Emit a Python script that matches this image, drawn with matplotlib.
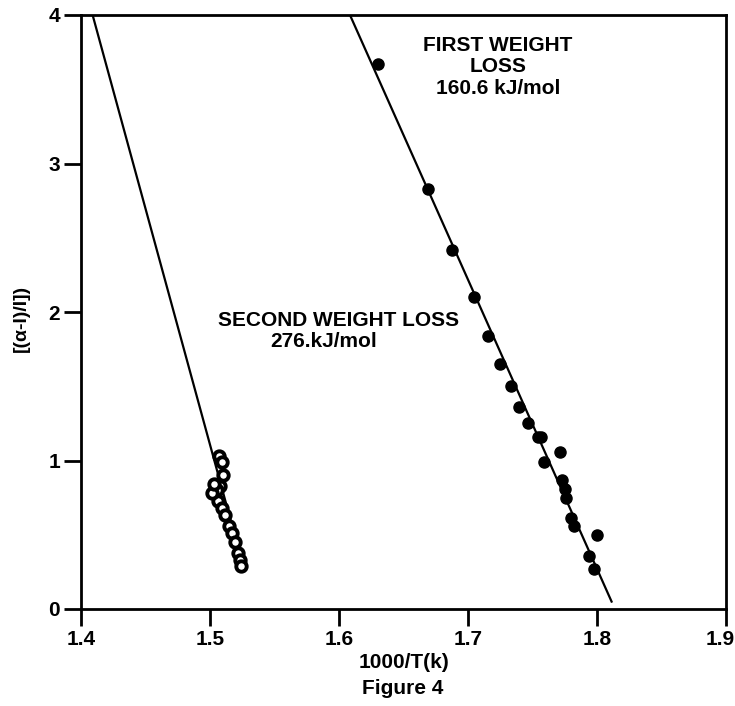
import matplotlib
matplotlib.use("Agg")
import matplotlib.pyplot as plt
from matplotlib.transforms import ScaledTranslation

plt.rcParams['font.family'] = ['Liberation Sans', 'DejaVu Sans']
plt.rcParams['font.weight'] = 'bold'

# second weight loss (open circles) and its fitted line
second_x = [1.507, 1.509, 1.510, 1.5078, 1.5054, 1.506, 1.509, 1.512,
            1.5147, 1.517, 1.519, 1.522, 1.523, 1.524, 1.5016, 1.503]
second_y = [1.03, 0.99, 0.90, 0.83, 0.80, 0.73, 0.68, 0.63,
            0.56, 0.51, 0.45, 0.38, 0.33, 0.29, 0.78, 0.84]
second_fit_x = [1.409, 1.526]
second_fit_y = [4.0, 0.28]

# first weight loss (filled circles) and its fitted line
first_x = [1.630, 1.669, 1.6876, 1.7047, 1.7157, 1.7248, 1.7333, 1.7398,
           1.7468, 1.7545, 1.7563, 1.759, 1.7713, 1.7726, 1.775, 1.776,
           1.780, 1.782, 1.794, 1.798, 1.800]
first_y = [3.67, 2.83, 2.42, 2.10, 1.84, 1.65, 1.50, 1.36,
           1.25, 1.16, 1.16, 0.99, 1.06, 0.87, 0.81, 0.745,
           0.61, 0.56, 0.355, 0.27, 0.50]
first_fit_x = [1.6085, 1.8113]
first_fit_y = [4.0, 0.05]

x_ticks = [1.4, 1.5, 1.6, 1.7, 1.8, 1.9]
y_ticks = [0, 1, 2, 3, 4]

fig = plt.figure(figsize=(7.35, 7.06), dpi=100)
ax = fig.add_axes([81 / 735, 1 - 609 / 706, 645 / 735, 594 / 706])

ax.plot(second_fit_x, second_fit_y, color='black', lw=1.6, zorder=2)
ax.plot(first_fit_x, first_fit_y, color='black', lw=1.6, zorder=2)
ax.plot(second_x, second_y, 'o', ms=7.5, mfc='white', mec='black', mew=2.8,
        zorder=3)
ax.plot(first_x, first_y, 'o', ms=8, mfc='black', mec='black', zorder=3)

ax.set_xlim(1.4, 1.9)
ax.set_ylim(0, 4)
ax.set_xticks(x_ticks)
ax.set_xticklabels([f'{v:.1f}' for v in x_ticks])
ax.set_yticks(y_ticks)

for side in ['left', 'bottom', 'top', 'right']:
    ax.spines[side].set_linewidth(2)
ax.tick_params(axis='both', direction='out', length=12, width=2,
               labelsize=15, pad=3)
ax.tick_params(top=False, right=False)
for lbl in ax.get_xticklabels() + ax.get_yticklabels():
    lbl.set_fontweight('bold')

# last x label sits against the right edge, as in the original
last = ax.get_xticklabels()[-1]
last.set_horizontalalignment('right')
last.set_transform(last.get_transform() +
                   ScaledTranslation(9 / 100, 0, fig.dpi_scale_trans))

ax.set_xlabel('1000/T(k)', fontsize=15, fontweight='bold', labelpad=3)
fig.text(21 / 735, 1 - 318 / 706, '[(α-I)/I])', rotation=90,
         ha='center', va='center', fontsize=14, fontweight='bold')

ax.text(1.7233, 3.65, 'FIRST WEIGHT\nLOSS\n160.6 kJ/mol', ha='center',
        va='center', fontsize=15, fontweight='bold', linespacing=1.15)
ax.text(1.506, 1.94, 'SECOND WEIGHT LOSS', ha='left', va='center',
        fontsize=15, fontweight='bold')
ax.text(1.5465, 1.80, '276.kJ/mol', ha='left', va='center',
        fontsize=15, fontweight='bold')

fig.text(403 / 735, 1 - 688 / 706, 'Figure 4', ha='center', va='center',
         fontsize=15, fontweight='bold')

fig.savefig('out.png', dpi=100)
